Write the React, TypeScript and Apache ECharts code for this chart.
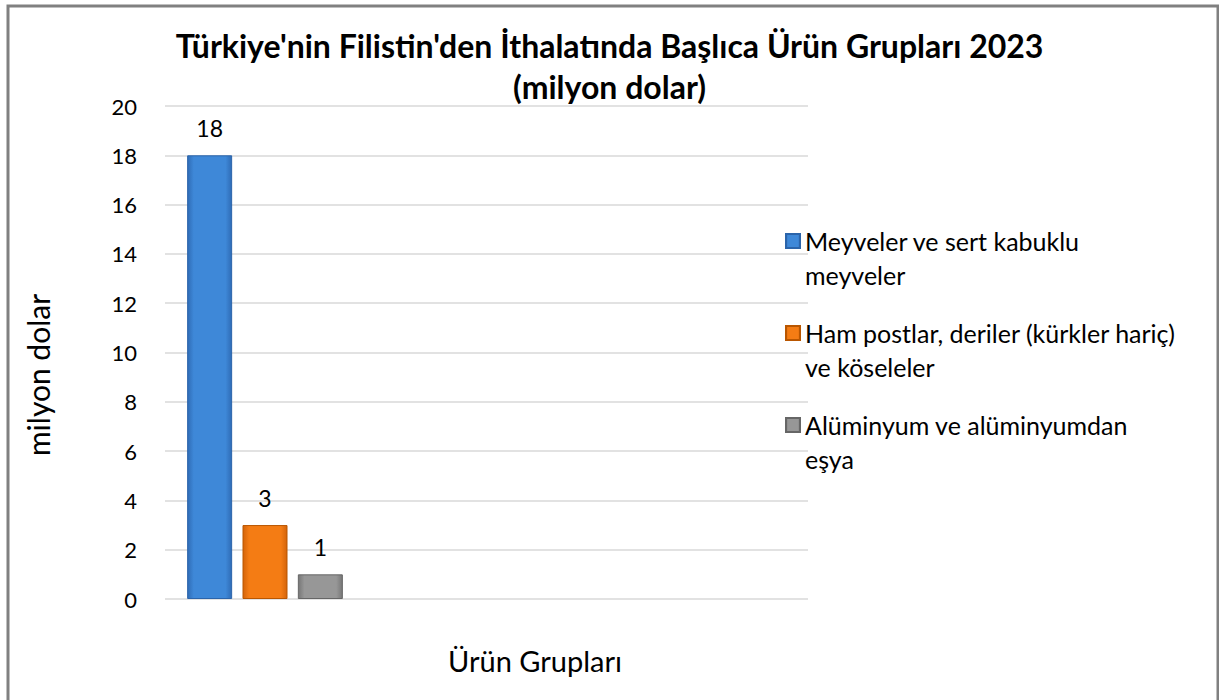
import React, { useEffect, useRef } from "react";
import * as echarts from "echarts";

const titleLines = [
  "Türkiye'nin Filistin'den İthalatında Başlıca Ürün Grupları 2023",
  "(milyon dolar)",
];
const categories = ["Ürün Grupları"];
const seriesNames = [
  "Meyveler ve sert kabuklu\nmeyveler",
  "Ham postlar, deriler (kürkler hariç)\nve köseleler",
  "Alüminyum ve alüminyumdan\neşya",
];
const seriesValues = [[18], [3], [1]];
const yTicks = { min: 0, max: 20, interval: 2 };
const yAxisTitle = "milyon dolar";
const xAxisTitle = "Ürün Grupları";

const FONT = "Lato, 'Open Sans', sans-serif";

const palettes = [
  { edge: "#2f6cb6", mid: "#3e88d8", border: "#2b64aa" },
  { edge: "#d4640a", mid: "#f47c14", border: "#b95600" },
  { edge: "#777777", mid: "#979797", border: "#666666" },
];

function grad(p: { edge: string; mid: string }) {
  return new echarts.graphic.LinearGradient(0, 0, 1, 0, [
    { offset: 0, color: p.edge },
    { offset: 0.14, color: p.mid },
    { offset: 0.86, color: p.mid },
    { offset: 1, color: p.edge },
  ]);
}

export default function App() {
  const ref = useRef<HTMLDivElement>(null);
  useEffect(() => {
    document.body.style.margin = "0";
    const chart = echarts.init(ref.current!, null, { renderer: "svg" });
    const option: any = {
      animation: false,
      backgroundColor: "#ffffff",
      title: {
        text: titleLines.join("\n"),
        left: "center",
        top: 20,
        textStyle: {
          fontFamily: FONT,
          fontSize: 32,
          fontWeight: "bold",
          lineHeight: 41,
          color: "#000000",
        },
      },
      legend: {
        orient: "vertical",
        left: 785,
        top: 190,
        padding: 0,
        icon: "rect",
        itemWidth: 14,
        itemHeight: 14,
        itemGap: -10,
        itemTextGap: 8,
        formatter: (name: string) => "\n" + name,
        textStyle: {
          fontFamily: FONT,
          fontSize: 25,
          lineHeight: 34,
          color: "#000000",
        },
        data: seriesNames,
      },
      grid: [
        { left: 165, top: 106, width: 643, height: 493 },
        { left: 165, top: 106, width: 200, height: 493 },
      ],
      xAxis: [
        { type: "category", gridIndex: 0, data: [""], show: false },
        {
          type: "category",
          gridIndex: 1,
          data: categories,
          axisLine: { show: false },
          axisTick: { show: false },
          axisLabel: { show: false },
        },
      ],
      yAxis: [
        {
          type: "value",
          gridIndex: 0,
          min: yTicks.min,
          max: yTicks.max,
          interval: yTicks.interval,
          axisLine: { show: false },
          axisTick: { show: false },
          axisLabel: {
            margin: 28,
            fontFamily: FONT,
            fontSize: 22,
            color: "#000000",
          },
          splitLine: { lineStyle: { color: "#d9d9d9", width: 1.5 } },
        },
        {
          type: "value",
          gridIndex: 1,
          min: yTicks.min,
          max: yTicks.max,
          interval: yTicks.interval,
          show: false,
          splitLine: { show: false },
        },
      ],
      series: seriesNames.map((name, i) => ({
        type: "bar",
        name,
        xAxisIndex: 1,
        yAxisIndex: 1,
        data: seriesValues[i],
        barWidth: 45,
        barGap: "23%",
        itemStyle: {
          color: grad(palettes[i]),
          borderColor: palettes[i].border,
          borderWidth: 1,
        },
        label: {
          show: true,
          position: "top",
          distance: 16,
          fontFamily: FONT,
          fontSize: 23,
          color: "#000000",
        },
      })),
      graphic: [
        {
          type: "rect",
          shape: { x: 8, y: 6, width: 1210, height: 720 },
          style: { fill: "none", stroke: "#808080", lineWidth: 3 },
          silent: true,
        },
        {
          type: "text",
          x: 38,
          y: 375,
          rotation: Math.PI / 2,
          style: {
            text: yAxisTitle,
            fontFamily: FONT,
            fontSize: 30,
            fill: "#000000",
            align: "center",
            verticalAlign: "middle",
          },
        },
        {
          type: "text",
          x: 535,
          y: 660,
          style: {
            text: xAxisTitle,
            fontFamily: FONT,
            fontSize: 29,
            fill: "#000000",
            align: "center",
            verticalAlign: "middle",
          },
        },
      ],
    };
    chart.setOption(option);
    return () => chart.dispose();
  }, []);
  return <div ref={ref} style={{ width: 1219, height: 700 }} />;
}
